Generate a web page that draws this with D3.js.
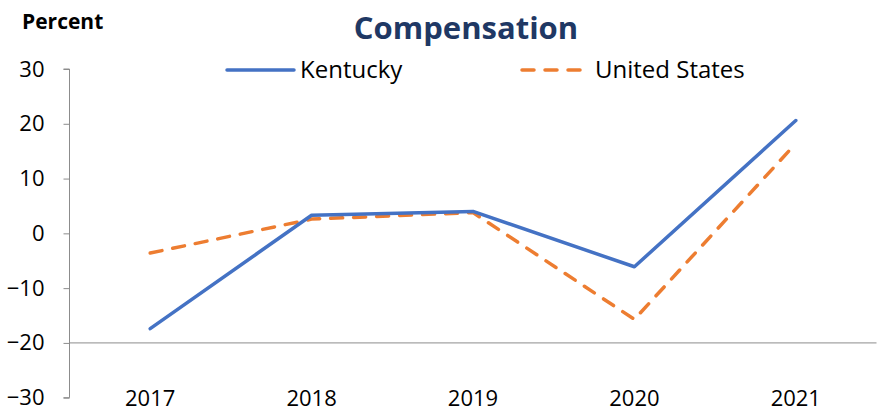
<!DOCTYPE html>
<html><head><meta charset="utf-8">
<script src="https://cdn.jsdelivr.net/npm/d3@7"></script>
<style>body{margin:0;background:#fff}svg{display:block}</style>
</head><body>
<svg id="c" width="884" height="413"></svg>
<script>
const categories = ["2017","2018","2019","2020","2021"];
const kentucky = [-17.4, 3.3, 4.0, -6.1, 20.6];
const unitedStates = [-3.6, 2.6, 3.8, -15.7, 16.4];
const yTicks = [30, 20, 10, 0, -10, -20, -30];

(function(){
const svg = d3.select("#c");
const font = "'Open Sans', sans-serif";
const pLeft = 69.5, pRight = 876.5, pTop = 69, pBottom = 397.7;

const x = d3.scaleBand().domain(categories).range([pLeft, pRight]);
const y = d3.scaleLinear().domain([-30, 30]).range([pBottom, pTop]);

// y axis
const yAxis = d3.axisLeft(y).tickValues(yTicks).tickSize(6).tickPadding(19).tickFormat(d3.format("d"));
const gy = svg.append("g").attr("transform", `translate(${pLeft},0)`).call(yAxis);
gy.select(".domain").attr("stroke", "#8c8c8c").attr("d", `M-6,${y(30)}H0V${y(-30)}H-6`);
gy.selectAll(".tick line").attr("stroke", "#8c8c8c");
gy.selectAll(".tick text").attr("font-family", font).attr("font-size", 22).attr("fill", "#000");

// horizontal category axis at -20
svg.append("line").attr("x1", pLeft).attr("x2", pRight)
  .attr("y1", y(-20)).attr("y2", y(-20)).attr("stroke", "#8c8c8c").attr("stroke-width", 1);

// category labels at bottom
svg.append("g").selectAll("text").data(categories).join("text")
  .attr("x", d => x(d) + x.bandwidth()/2).attr("y", 406)
  .attr("text-anchor", "middle").attr("font-family", font).attr("font-size", 22).attr("fill", "#000")
  .text(d => d);

const line = d3.line().x((d,i) => x(categories[i]) + x.bandwidth()/2).y(d => y(d));

svg.append("path").datum(unitedStates).attr("d", line).attr("fill", "none")
  .attr("stroke", "#ED7D31").attr("stroke-width", 3.5).attr("stroke-dasharray", "12,11")
  .attr("stroke-linecap", "round").attr("stroke-linejoin", "round");
svg.append("path").datum(kentucky).attr("d", line).attr("fill", "none")
  .attr("stroke", "#4472C4").attr("stroke-width", 3.5)
  .attr("stroke-linecap", "round").attr("stroke-linejoin", "round");

// title
svg.append("text").attr("x", 466).attr("y", 39).attr("text-anchor", "middle")
  .attr("font-family", font).attr("font-weight", "bold").attr("font-size", 31).attr("fill", "#1F3864")
  .text("Compensation");
svg.append("text").attr("x", 22).attr("y", 29)
  .attr("font-family", font).attr("font-weight", "bold").attr("font-size", 21).attr("fill", "#000")
  .text("Percent");

// legend
const legend = [
  {name: "Kentucky", color: "#4472C4", dash: null, x0: 227},
  {name: "United States", color: "#ED7D31", dash: "12,11", x0: 522}
];
const lg = svg.append("g").selectAll("g").data(legend).join("g");
lg.append("line").attr("x1", d => d.x0).attr("x2", d => d.x0 + 67).attr("y1", 70).attr("y2", 70)
  .attr("stroke", d => d.color).attr("stroke-width", 3.5).attr("stroke-linecap", "round")
  .attr("stroke-dasharray", d => d.dash);
lg.append("text").attr("x", d => d.x0 + 73).attr("y", 78)
  .attr("font-family", font).attr("font-size", 24).attr("fill", "#000").text(d => d.name);
})();
</script>
</body></html>
